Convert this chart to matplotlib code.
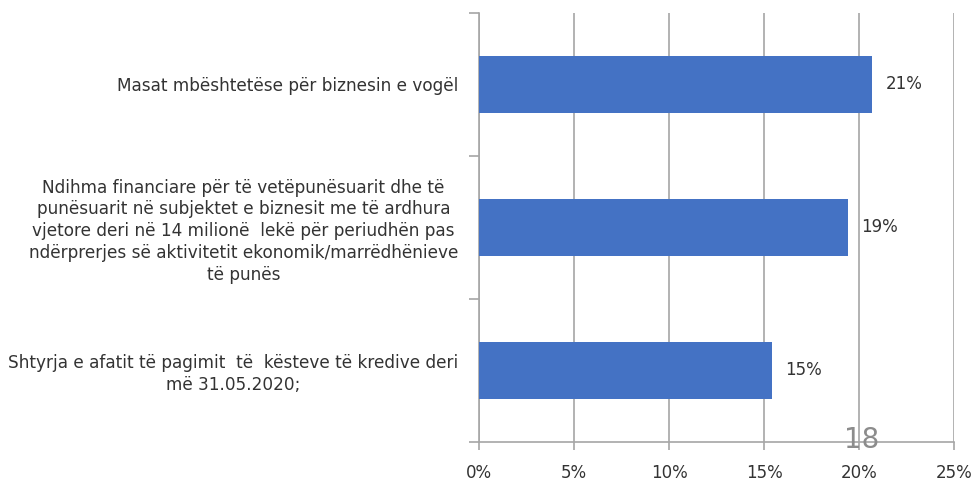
import matplotlib
matplotlib.use("Agg")
import matplotlib.pyplot as plt
from matplotlib.ticker import FuncFormatter

categories = [
    "Masat mbështetëse për biznesin e vogël",
    "Ndihma financiare për të vetëpunësuarit dhe të\npunësuarit në subjektet e biznesit me të ardhura\nvjetore deri në 14 milionë  lekë për periudhën pas\nndërprerjes së aktivitetit ekonomik/marrëdhënieve\ntë punës",
    "Shtyrja e afatit të pagimit  të  kësteve të kredive deri\nmë 31.05.2020;",
]
values = [20.7, 19.4, 15.4]
value_labels = ["21%", "19%", "15%"]
x_ticks = [0, 5, 10, 15, 20, 25]
page_number = "18"

fig = plt.figure(figsize=(9.71, 4.83), dpi=100)
ax = fig.add_axes([479/971, 1 - 442/483, (954 - 479)/971, (442 - 12.7)/483])

ypos = list(range(len(categories)))
bars = ax.barh(ypos, values, height=0.4, color="#4472C4", zorder=3)
ax.set_ylim(len(categories) - 0.5, -0.5)
ax.set_xlim(0, 25)

ax.set_xticks(x_ticks)
ax.xaxis.set_major_formatter(FuncFormatter(lambda v, p: f"{int(v)}%"))
ax.grid(axis="x", color="#A6A6A6", linewidth=1.2, zorder=0)

ax.set_yticks(ypos)
ax.set_yticklabels(categories, ha="right", multialignment="center", linespacing=1.27)
ax.set_yticks([i - 0.5 for i in range(len(categories) + 1)], minor=True)
ax.tick_params(axis="y", which="major", length=0, pad=15, labelsize=12.2, labelcolor="#333333")
ax.tick_params(axis="y", which="minor", length=7, width=1.2, color="#A6A6A6", direction="out")
ax.tick_params(axis="x", length=6, width=1.2, color="#A6A6A6", labelsize=12, labelcolor="#333333", pad=10)

for s in ["top", "right"]:
    ax.spines[s].set_visible(False)
for s in ["left", "bottom"]:
    ax.spines[s].set_color("#A6A6A6")
    ax.spines[s].set_linewidth(1.2)

for b, lab in zip(bars, value_labels):
    ax.annotate(lab, (b.get_width(), b.get_y() + b.get_height() / 2),
                xytext=(10, 0), textcoords="offset points", va="center", ha="left",
                fontsize=12, color="#333333")

fig.text(862/971, 1 - 440/483, page_number, fontsize=20, color="#8C8C8C", ha="center", va="center")

fig.savefig("out.png", dpi=100)
